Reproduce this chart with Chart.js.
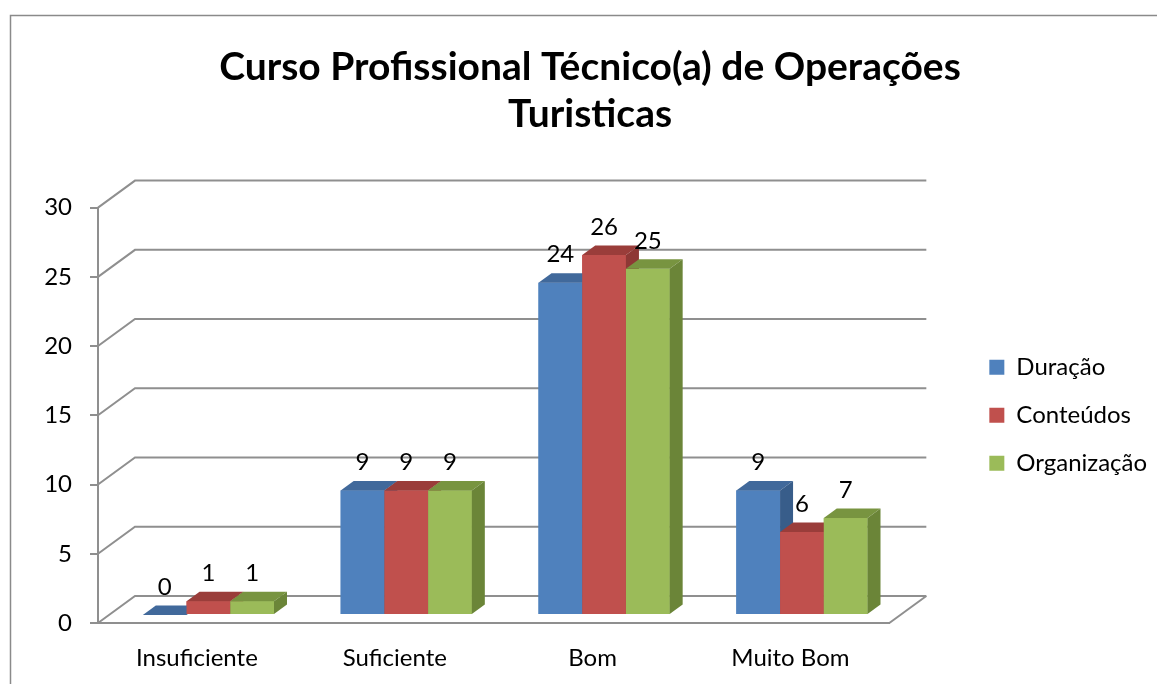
<!DOCTYPE html>
<html>
<head>
<meta charset="utf-8">
<script src="https://cdn.jsdelivr.net/npm/chart.js@4.4.1/dist/chart.umd.min.js"></script>
<style>
  html, body { margin: 0; padding: 0; background: #fff; }
  canvas { display: block; }
</style>
</head>
<body>
<canvas id="chart" width="1157" height="684"></canvas>
<script>
// data
const categories = ['Insuficiente', 'Suficiente', 'Bom', 'Muito Bom'];
const seriesNames = ['Duração', 'Conteúdos', 'Organização'];
const duracao = [0, 9, 24, 9];
const conteudos = [1, 9, 26, 6];
const organizacao = [1, 9, 25, 7];
const yMin = 0, yMax = 30, yStep = 5;
const titleLines = ['Curso Profissional Técnico(a) de Operações', 'Turisticas'];

// styles
const FONT = 'Lato, "Open Sans", sans-serif';
const gridColor = '#8f8f8f';
const faces = [
  { front: '#4F81BD', top: '#41699B', side: '#385D8A' },
  { front: '#C0504D', top: '#9A3D3A', side: '#8E3835' },
  { front: '#9BBB59', top: '#789440', side: '#6B8538' }
];
const WALL = { x: 37, y: -27 };      // back wall offset
const SHIFT = { x: 11.5, y: -8 };    // bars sit a bit into the floor
const DEPTH = { x: 13, y: -9.5 };    // bar thickness

const threeD = {
  id: 'threeD',
  beforeDraw(chart) {
    const ctx = chart.ctx;
    ctx.save();
    ctx.strokeStyle = '#8a8a8a';
    ctx.lineWidth = 1.5;
    ctx.strokeRect(10.5, 15.5, 1400, 900);
    ctx.restore();
  },
  beforeDatasetsDraw(chart) {
    const { ctx, chartArea: a, scales: { y } } = chart;
    ctx.save();
    ctx.strokeStyle = gridColor;
    ctx.lineWidth = 2;
    y.ticks.forEach(t => {
      const py = y.getPixelForValue(t.value);
      ctx.beginPath();
      ctx.moveTo(a.left, py);
      ctx.lineTo(a.left + WALL.x, py + WALL.y);
      ctx.lineTo(a.right + WALL.x, py + WALL.y);
      ctx.stroke();
    });
    ctx.beginPath();
    ctx.moveTo(a.right, a.bottom);
    ctx.lineTo(a.right + WALL.x, a.bottom + WALL.y);
    ctx.stroke();
    ctx.restore();

    ctx.save();
    ctx.translate(SHIFT.x, SHIFT.y);
  },
  afterDatasetsDraw(chart) {
    const ctx = chart.ctx;
    const metas = chart.getSortedVisibleDatasetMetas();
    categories.forEach((c, i) => {
      metas.forEach(meta => {
        const bar = meta.data[i];
        const { x, y, base, width } = bar.getProps(['x', 'y', 'base', 'width'], true);
        const l = x - width / 2, r = x + width / 2;
        const f = faces[meta.index];
        ctx.fillStyle = f.front;
        ctx.fillRect(l, y, width, base - y);
        ctx.fillStyle = f.top;
        ctx.beginPath();
        ctx.moveTo(l, y);
        ctx.lineTo(l + DEPTH.x, y + DEPTH.y);
        ctx.lineTo(r + DEPTH.x, y + DEPTH.y);
        ctx.lineTo(r, y);
        ctx.closePath();
        ctx.fill();
        ctx.fillStyle = f.side;
        ctx.beginPath();
        ctx.moveTo(r, y);
        ctx.lineTo(r + DEPTH.x, y + DEPTH.y);
        ctx.lineTo(r + DEPTH.x, base + DEPTH.y);
        ctx.lineTo(r, base);
        ctx.closePath();
        ctx.fill();
      });
    });
    // value labels
    ctx.fillStyle = '#000';
    ctx.font = '24px ' + FONT;
    ctx.textAlign = 'center';
    ctx.textBaseline = 'middle';
    metas.forEach(meta => {
      meta.data.forEach((bar, i) => {
        const { x, y } = bar.getProps(['x', 'y'], true);
        ctx.fillText(String(chart.data.datasets[meta.index].data[i]), x, y - 28);
      });
    });
    ctx.restore();
  }
};

function draw() {
  new Chart(document.getElementById('chart'), {
    type: 'bar',
    data: {
      labels: categories,
      datasets: [
        { label: seriesNames[0], data: duracao, backgroundColor: faces[0].front },
        { label: seriesNames[1], data: conteudos, backgroundColor: faces[1].front },
        { label: seriesNames[2], data: organizacao, backgroundColor: faces[2].front }
      ]
    },
    options: {
      responsive: false,
      animation: false,
      datasets: { bar: { barPercentage: 1, categoryPercentage: 0.663, borderWidth: 0 } },
      layout: { padding: { left: 27, right: 4, top: 0, bottom: 0 } },
      plugins: {
        title: {
          display: true,
          text: titleLines,
          color: '#000',
          font: { family: FONT, size: 39, weight: 'bold', lineHeight: 1.2 },
          padding: { top: 44, bottom: 70 }
        },
        legend: {
          position: 'right',
          fullSize: false,
          labels: {
            boxWidth: 15,
            boxHeight: 15,
            padding: 24,
            color: '#000',
            font: { family: FONT, size: 24 }
          }
        },
        tooltip: { enabled: false }
      },
      scales: {
        x: {
          grid: { display: false, drawTicks: false },
          border: { display: true, color: gridColor, width: 2 },
          ticks: { color: '#000', font: { family: FONT, size: 24 }, padding: 21 },
          afterFit(s) { s.height = 61; }
        },
        y: {
          min: yMin,
          max: yMax,
          ticks: { stepSize: yStep, color: '#000', font: { family: FONT, size: 24 }, padding: 18 },
          grid: { display: true, drawOnChartArea: false, drawTicks: true, tickLength: 8, color: gridColor, lineWidth: 2 },
          border: { display: true, color: gridColor, width: 2 },
          afterFit(s) { s.width = 71; }
        },
        pad: {
          axis: 'y',
          position: 'right',
          display: true,
          grid: { display: false },
          border: { display: false },
          ticks: { display: false },
          afterFit(s) { s.width = 76; }
        }
      }
    },
    plugins: [threeD]
  });
}

Promise.all([
  document.fonts.load('24px Lato'),
  document.fonts.load('bold 39px Lato')
]).then(draw, draw);
</script>
</body>
</html>
